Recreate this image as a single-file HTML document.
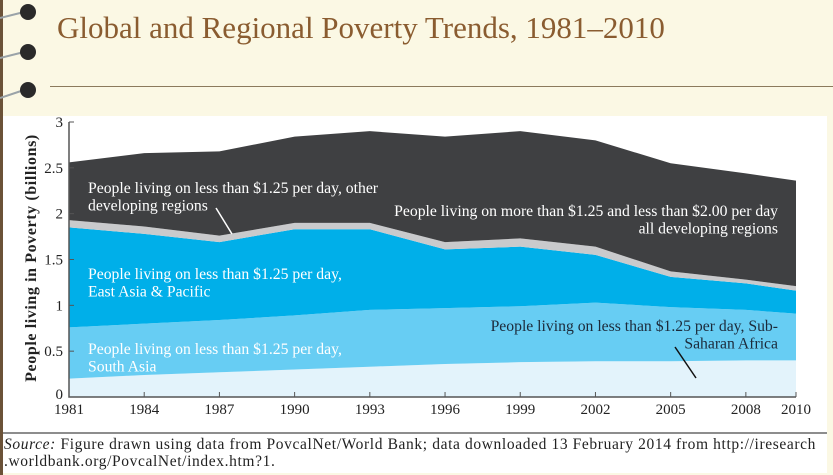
<!DOCTYPE html>
<html><head><meta charset="utf-8"><style>
html,body{margin:0;padding:0;}
body{width:833px;height:475px;background:#fbf8e4;position:relative;overflow:hidden;font-family:"Liberation Serif",serif;}
</style></head><body>
<div style="position:absolute;left:0;top:0;width:3px;height:475px;background:#6b5238"></div>
<div style="position:absolute;left:57px;top:10px;font-size:31px;color:#8a5c30;white-space:nowrap">Global and Regional Poverty Trends, 1981–2010</div>
<div style="position:absolute;left:50px;top:86px;width:783px;height:1px;background:#8b7a5c"></div>
<div style="position:absolute;left:3px;top:116px;width:824px;height:357px;background:#fff"></div>
<div style="position:absolute;left:3px;top:432px;width:824px;height:2px;background:#8d8d8d"></div>
<div style="position:absolute;left:4px;top:436px;font-size:15.5px;letter-spacing:0.62px;line-height:17px;color:#222;white-space:nowrap"><i>Source:</i> Figure drawn using data from PovcalNet/World Bank; data downloaded 13 February 2014 from http://iresearch<br>.worldbank.org/PovcalNet/index.htm?1.</div>
<svg width="60" height="110" style="position:absolute;left:0;top:0">
<g stroke="#9aa3a8" stroke-width="2" fill="none"><path d="M0 18 L24 12"/><path d="M0 58 L24 52"/><path d="M0 98 L24 90"/></g>
<circle cx="28" cy="12" r="8" fill="#2a2a2a"/><circle cx="28" cy="52" r="8" fill="#2a2a2a"/><circle cx="28" cy="90" r="8" fill="#2a2a2a"/>
</svg>
<svg id="chart" width="833" height="475" style="position:absolute;left:0;top:0"></svg>
<script>
const years=[1981,1984,1987,1990,1993,1996,1999,2002,2005,2008,2010];
const ssa=[0.20,0.24,0.27,0.30,0.33,0.36,0.38,0.39,0.39,0.40,0.40];
const southAsia=[0.56,0.56,0.57,0.59,0.62,0.61,0.61,0.64,0.59,0.55,0.51];
const eastAsia=[1.09,0.98,0.85,0.94,0.88,0.64,0.65,0.52,0.33,0.29,0.25];
const otherRegions=[0.08,0.08,0.07,0.07,0.07,0.08,0.09,0.09,0.06,0.04,0.05];
const twoDollar=[0.63,0.80,0.92,0.94,1.00,1.15,1.17,1.16,1.18,1.16,1.15];
const yTicks=[0,0.5,1,1.5,2,2.5,3];
const yTickLabels=["0","0.5","1","1.5","2","2.5","3"];
const xTicks=[1981,1984,1987,1990,1993,1996,1999,2002,2005,2008,2010];

const NS="http://www.w3.org/2000/svg";
const svg=document.getElementById('chart');
const x=v=>69+(v-1981)/(2010-1981)*(796-69);
const y=v=>397-v*(397-122)/3;
function mk(t,a){const e=document.createElementNS(NS,t);for(const k in a)e.setAttribute(k,a[k]);svg.appendChild(e);return e;}
const series=[[ssa,'#e3f3fb','area-sub-saharan-africa'],[southAsia,'#67cdf3','area-south-asia'],[eastAsia,'#00afe9','area-east-asia-pacific'],[otherRegions,'#c9cacc','area-other-regions'],[twoDollar,'#3f4042','area-1-25-to-2-dollars']];
let base=years.map(()=>0);
series.forEach(([vals,col,name])=>{
  const top=base.map((b,i)=>b+vals[i]);
  let d='M'+years.map((yr,i)=>x(yr)+','+y(top[i])).join(' L');
  for(let i=years.length-1;i>=0;i--)d+=' L'+x(years[i])+','+y(base[i]);
  const p=mk('path',{d:d+'Z',fill:col});
  
  
  base=top;
});
const ax=mk('path',{d:`M69 ${y(3)} V397 H796`,stroke:'#555',fill:'none','stroke-width':1.5});


yTicks.forEach((v,i)=>{
  const t=mk('line',{x1:69,x2:74,y1:y(v),y2:y(v),stroke:'#555'});
  
  
  const l=mk('text',{x:63,y:y(v)+(v===0?2:5),'text-anchor':'end','font-size':15,fill:'#222','font-family':'Liberation Serif, serif'});
  l.textContent=yTickLabels[i];
  
  
});
xTicks.forEach(v=>{
  const t=mk('line',{x1:x(v),x2:x(v),y1:392,y2:397,stroke:'#555'});
  
  
  const l=mk('text',{x:x(v),y:414,'text-anchor':'middle','font-size':15,fill:'#222','font-family':'Liberation Serif, serif'});
  l.textContent=v;
  
  
});
const yt=mk('text',{x:0,y:0,transform:'translate(36,258) rotate(-90)','text-anchor':'middle','font-size':16,'letter-spacing':0.6,'font-weight':'bold',fill:'#222','font-family':'Liberation Serif, serif'});
yt.textContent='People living in Poverty (billions)';


function label(lines,xx,yy,anchor,col,name){
  lines.forEach((s,i)=>{
    const t=mk('text',{x:xx,y:yy+i*17.5,'text-anchor':anchor,'font-size':15.7,fill:col,'font-family':'Liberation Serif, serif'});
    t.textContent=s;
    
    
  });
}
label(['People living on less than $1.25 per day, other','developing regions'],88,193,'start','#fff','label-other-regions');
label(['People living on more than $1.25 and less than $2.00 per day','all developing regions'],778,216,'end','#fff','label-two-dollar');
label(['People living on less than $1.25 per day,','East Asia & Pacific'],88,279,'start','#fff','label-east-asia');
label(['People living on less than $1.25 per day,','South Asia'],88,354,'start','#fff','label-south-asia');
label(['People living on less than $1.25 per day, Sub-','Saharan Africa'],778,331,'end','#1c2a3a','label-sub-saharan-africa');
const p1=mk('line',{x1:216,y1:208,x2:232,y2:234,stroke:'#fff','stroke-width':1.5});


const p2=mk('line',{x1:675,y1:347,x2:696,y2:378,stroke:'#111','stroke-width':1.5});


</script>
</body></html>
